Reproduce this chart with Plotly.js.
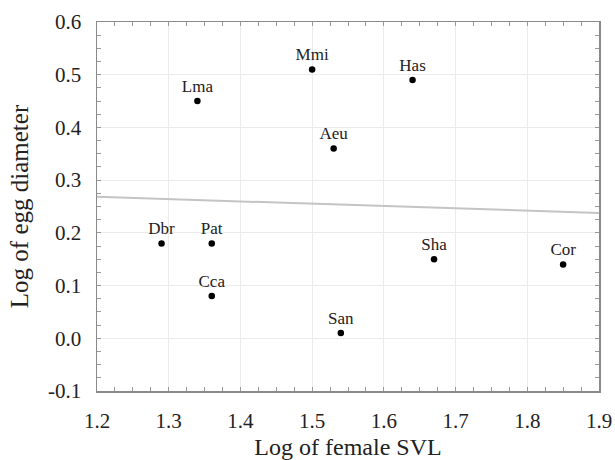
<!DOCTYPE html>
<html>
<head>
<meta charset="utf-8">
<script src="https://cdn.plot.ly/plotly-3.0.1.min.js"></script>
<style>html,body{margin:0;padding:0;background:#fff;}#chart{width:615px;height:460px;}</style>
</head>
<body>
<div id="chart"></div>
<script>
const species = ["Lma", "Mmi", "Has", "Aeu", "Dbr", "Pat", "Cca", "San", "Sha", "Cor"];
const logSVL = [1.34, 1.50, 1.64, 1.53, 1.29, 1.36, 1.36, 1.54, 1.67, 1.85];
const logEgg = [0.45, 0.51, 0.49, 0.36, 0.18, 0.18, 0.08, 0.01, 0.15, 0.14];
const xTicks = [1.2, 1.3, 1.4, 1.5, 1.6, 1.7, 1.8, 1.9];
const xTickText = ["1.2", "1.3", "1.4", "1.5", "1.6", "1.7", "1.8", "1.9"];
const yTicks = [-0.1, 0.0, 0.1, 0.2, 0.3, 0.4, 0.5, 0.6];
const yTickText = ["-0.1", "0.0", "0.1", "0.2", "0.3", "0.4", "0.5", "0.6"];

// least-squares fit line
const n = logSVL.length;
const mx = logSVL.reduce((a, b) => a + b, 0) / n;
const my = logEgg.reduce((a, b) => a + b, 0) / n;
let sxy = 0, sxx = 0;
for (let i = 0; i < n; i++) { sxy += (logSVL[i] - mx) * (logEgg[i] - my); sxx += (logSVL[i] - mx) ** 2; }
const slope = sxy / sxx, icpt = my - slope * mx;
const fitX = [xTicks[0], xTicks[xTicks.length - 1]];
const fitY = fitX.map(x => icpt + slope * x);

const font = "Liberation Serif";
const data = [
  { x: fitX, y: fitY, mode: "lines", line: { color: "#c4c4c4", width: 2 }, hoverinfo: "skip", showlegend: false },
  { x: logSVL, y: logEgg, text: species, mode: "markers+text", textposition: "top center",
    marker: { color: "#000", size: 6.5 }, textfont: { family: font, size: 17, color: "#222" }, showlegend: false },
  { x: [1.2], y: [0], xaxis: "x2", yaxis: "y2", mode: "markers", marker: { opacity: 0 }, hoverinfo: "skip", showlegend: false }
];
const axisCommon = {
  showline: true, linecolor: "#8a8a8a", linewidth: 1.5, mirror: true,
  ticks: "inside", ticklen: 4, tickcolor: "#999", tickwidth: 1,
  showgrid: true, gridcolor: "#ebebeb", gridwidth: 1, zeroline: false,
  minor: { dtick: 0.025, ticks: "inside", ticklen: 4, tickcolor: "#999", showgrid: false },
  tickfont: { family: font, size: 21, color: "#222" }, ticklabelstandoff: 10, automargin: false
};
const mirrorCommon = {
  showline: false, ticks: "inside", ticklen: 4, tickcolor: "#999", tickwidth: 1,
  showgrid: false, zeroline: false, showticklabels: false,
  minor: { dtick: 0.025, ticks: "inside", ticklen: 4, tickcolor: "#999", showgrid: false }
};
const layout = {
  width: 615, height: 460,
  margin: { l: 97, r: 16, t: 22, b: 69 },
  paper_bgcolor: "#fff", plot_bgcolor: "#fff",
  font: { family: font },
  xaxis: Object.assign({}, axisCommon, { range: [1.2, 1.9], tickvals: xTicks, ticktext: xTickText,
    title: { text: "Log of female SVL", font: { family: font, size: 24, color: "#222" }, standoff: 12 } }),
  yaxis: Object.assign({}, axisCommon, { range: [-0.1, 0.6], tickvals: yTicks, ticktext: yTickText,
    title: { text: "Log of egg diameter", font: { family: font, size: 25, color: "#222" }, standoff: 12 } }),
  xaxis2: Object.assign({}, mirrorCommon, { overlaying: "x", side: "top", anchor: "y2", range: [1.2, 1.9], dtick: 0.1, tick0: 1.2 }),
  yaxis2: Object.assign({}, mirrorCommon, { overlaying: "y", side: "right", anchor: "x2", range: [-0.1, 0.6], dtick: 0.1, tick0: 0 })
};
Plotly.newPlot("chart", data, layout, { displayModeBar: false, staticPlot: true });
</script>
</body>
</html>
